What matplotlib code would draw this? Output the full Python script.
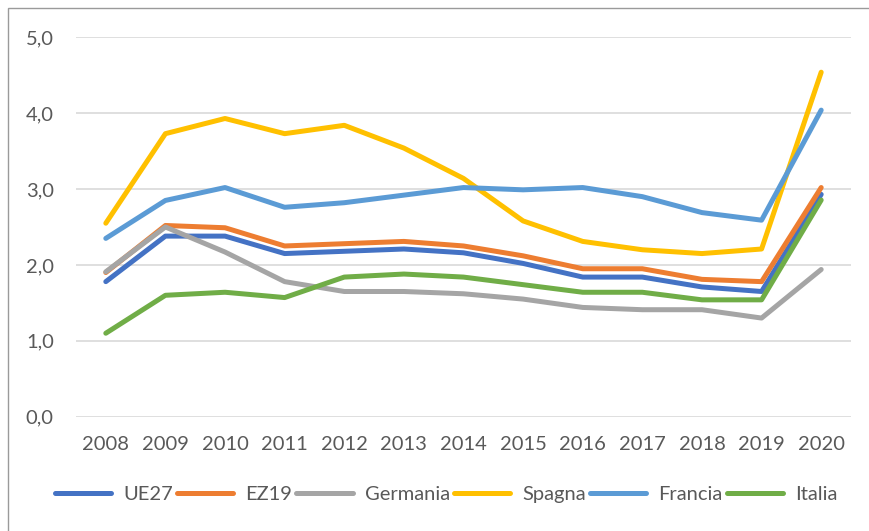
import matplotlib
matplotlib.use("Agg")
import matplotlib.pyplot as plt
from matplotlib.patches import Rectangle
from matplotlib.ticker import FuncFormatter

years = ["2008", "2009", "2010", "2011", "2012", "2013", "2014",
         "2015", "2016", "2017", "2018", "2019", "2020"]

ue27     = [1.78, 2.38, 2.38, 2.15, 2.18, 2.21, 2.16, 2.02, 1.84, 1.84, 1.71, 1.65, 2.93]
ez19     = [1.90, 2.52, 2.49, 2.25, 2.28, 2.31, 2.25, 2.12, 1.95, 1.95, 1.81, 1.78, 3.02]
germania = [1.91, 2.50, 2.17, 1.78, 1.65, 1.65, 1.62, 1.55, 1.44, 1.41, 1.41, 1.30, 1.94]
spagna   = [2.55, 3.73, 3.93, 3.73, 3.84, 3.54, 3.14, 2.58, 2.31, 2.20, 2.15, 2.21, 4.54]
francia  = [2.35, 2.85, 3.02, 2.76, 2.82, 2.92, 3.02, 2.99, 3.02, 2.90, 2.69, 2.59, 4.04]
italia   = [1.10, 1.60, 1.64, 1.57, 1.84, 1.88, 1.84, 1.74, 1.64, 1.64, 1.54, 1.54, 2.855]

series = [
    ("UE27", ue27, "#4472C4"),
    ("EZ19", ez19, "#ED7D31"),
    ("Germania", germania, "#A5A5A5"),
    ("Spagna", spagna, "#FFC000"),
    ("Francia", francia, "#5B9BD5"),
    ("Italia", italia, "#70AD47"),
]

W, H = 869, 531
fig = plt.figure(figsize=(W / 100, H / 100), dpi=100)
plt.rcParams["font.family"] = ["Lato", "DejaVu Sans"]

# outer chart frame
fig.patches.append(Rectangle((8 / W, -0.1), 1.2, 1 - 8 / H + 0.1,
                             transform=fig.transFigure, fill=False,
                             edgecolor="#9a9a9a", linewidth=1.0, zorder=0))

left, right = 76 / W, 851 / W
bottom, top = (H - 416.7) / H, (H - 37.3) / H
ax = fig.add_axes([left, bottom, right - left, top - bottom])

x = list(range(len(years)))
for i, (name, vals, col) in enumerate(series):
    ax.plot(x, vals, color=col, linewidth=3.6, label=name,
            solid_capstyle="round", solid_joinstyle="round", zorder=3 + i)

ax.set_xlim(-0.5, len(years) - 0.5)
ax.set_ylim(0, 5)
ax.set_yticks([0, 1, 2, 3, 4, 5])
ax.yaxis.set_major_formatter(FuncFormatter(lambda v, p: f"{v:.1f}".replace(".", ",")))
ax.set_xticks(x)
ax.set_xticklabels(years)

ax.grid(axis="y", color="#D9D9D9", linewidth=1.2)
ax.set_axisbelow(True)
for s in ax.spines.values():
    s.set_visible(False)
ax.tick_params(axis="both", length=0, labelsize=14.5, labelcolor="#595959")
ax.tick_params(axis="y", pad=16)
ax.tick_params(axis="x", pad=14)

leg = fig.legend(loc="center", bbox_to_anchor=(446 / W, (H - 494) / H),
                 ncol=6, frameon=False, fontsize=14.5, handlelength=2.8,
                 handletextpad=0.6, columnspacing=0.2, borderaxespad=0)
for t in leg.get_texts():
    t.set_color("#595959")
for h in leg.get_lines():
    h.set_solid_capstyle("round")

fig.savefig("out.png", dpi=100)
